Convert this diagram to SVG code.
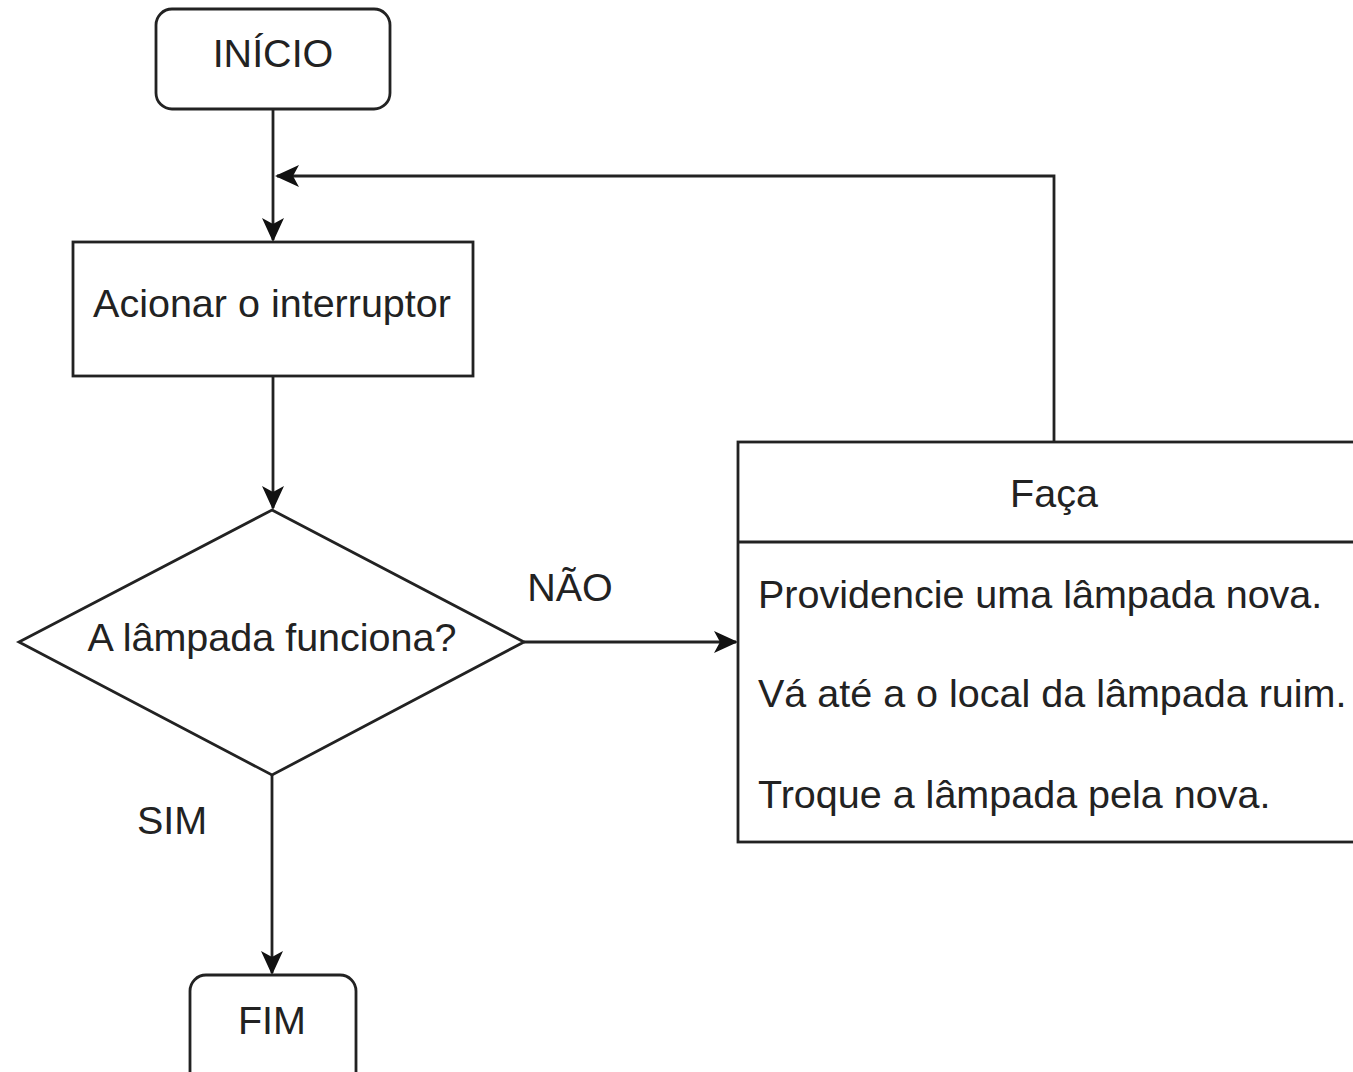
<svg xmlns="http://www.w3.org/2000/svg" width="1353" height="1072" viewBox="0 0 1353 1072">
<style>
.s{fill:#fff;stroke:#222;stroke-width:2.8}
.t{font-family:"Liberation Sans",Arial,sans-serif;font-size:39.5px;fill:#222}
.c{text-anchor:middle}
.e{fill:none;stroke:#222;stroke-width:2.8}
</style>
<defs>
<marker id="a" viewBox="0 0 24 24" refX="22" refY="12" markerWidth="24" markerHeight="24" markerUnits="userSpaceOnUse" orient="auto">
<path d="M0,1 L24,12 L0,23 L6,12 Z" fill="#111"/>
</marker>
</defs>
<rect width="1353" height="1072" fill="#fff"/>
<g id="connectors">
<path class="e" d="M273,109 V240" marker-end="url(#a)"/>
<path class="e" d="M1054,442 V176 H277" marker-end="url(#a)"/>
<path class="e" d="M273,376 V508" marker-end="url(#a)"/>
<path class="e" d="M524,642 H736" marker-end="url(#a)"/>
<path class="e" d="M272,775 V973" marker-end="url(#a)"/>
<text class="t c" x="570" y="601">NÃO</text>
<text class="t c" x="172" y="834">SIM</text>
</g>
<g id="inicio">
<rect class="s" x="156" y="9" width="234" height="100" rx="16"/>
<text class="t c" x="273" y="67">INÍCIO</text>
</g>
<g id="acionar">
<rect class="s" x="73" y="242" width="400" height="134"/>
<text class="t c" x="272" y="317">Acionar o interruptor</text>
</g>
<g id="decisao">
<polygon class="s" points="272,510 524,642 272,775 19,642"/>
<text class="t c" x="272" y="651">A lâmpada funciona?</text>
</g>
<g id="faca">
<rect class="s" x="738" y="442" width="630" height="400"/>
<line class="e" x1="738" y1="542" x2="1353" y2="542"/>
<text class="t c" x="1054" y="507">Faça</text>
<text class="t" x="758" y="608">Providencie uma lâmpada nova.</text>
<text class="t" x="758" y="707">Vá até a o local da lâmpada ruim.</text>
<text class="t" x="758" y="808">Troque a lâmpada pela nova.</text>
</g>
<g id="fim">
<rect class="s" x="190" y="975" width="166" height="120" rx="16"/>
<text class="t c" x="272" y="1034">FIM</text>
</g>
</svg>
